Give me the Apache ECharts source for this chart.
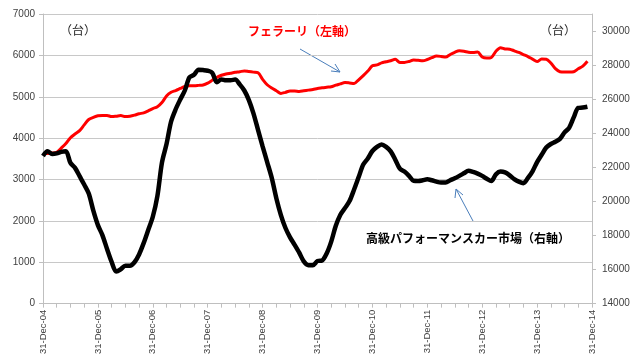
<!DOCTYPE html>
<html><head><meta charset="utf-8">
<script src="https://cdn.jsdelivr.net/npm/echarts@6/dist/echarts.min.js"></script>
<style>html,body{margin:0;padding:0;background:#fff}#c{width:639px;height:357px}</style>
</head><body><div id="c"></div>
<script>
// Year tick labels shown on the x axis
const yearLabels = ['31-Dec-04','31-Dec-05','31-Dec-06','31-Dec-07','31-Dec-08','31-Dec-09','31-Dec-10','31-Dec-11','31-Dec-12','31-Dec-13','31-Dec-14'];
const monthNames = ['Jan','Feb','Mar','Apr','May','Jun','Jul','Aug','Sep','Oct','Nov','Dec'];
const monthDays = ['31','28','31','30','31','30','31','31','30','31','30','31'];
// Monthly categories Dec-04 .. Dec-14
const categories = ['31-Dec-04'];
for (let y = 5; y <= 14; y++) {
  for (let m = 0; m < 12; m++) {
    categories.push(monthDays[m] + '-' + monthNames[m] + '-' + String(y).padStart(2, '0'));
  }
}
// Ferrari (left axis, units)
const ferrari = [3630,3630,3640,3660,3760,3870,4010,4100,4180,4320,4450,4500,
4540,4550,4550,4520,4530,4545,4520,4530,4555,4590,4610,4660,
4715,4760,4860,5020,5110,5150,5200,5250,5268,5268,5275,5285,
5330,5400,5470,5520,5550,5570,5590,5605,5625,5610,5595,5580,
5420,5290,5210,5145,5080,5107,5140,5140,5130,5145,5160,5175,
5200,5215,5230,5240,5280,5310,5345,5335,5320,5410,5510,5620,
5750,5770,5820,5845,5870,5905,5830,5830,5853,5890,5880,5870,
5900,5945,5985,5975,5958,6020,6075,6110,6100,6075,6070,6079,
5960,5935,5950,6100,6185,6155,6150,6110,6070,6020,5970,5910,
5850,5910,5905,5815,5680,5605,5597,5597,5605,5675,5740,5860];
// High-performance car market (right axis, units)
const market = [22670,22940,22790,22820,22910,22940,22260,21970,21480,20990,20460,19460,
18610,18010,17210,16450,15890,16020,16230,16230,16430,16890,17550,18320,
19100,20310,22280,23370,24690,25410,25980,26510,27280,27430,27730,27710,
27670,27550,26990,27160,27110,27110,27150,26870,26510,25950,25170,24200,
23230,22310,21380,20190,19200,18440,17890,17450,16990,16480,16260,16260,
16500,16530,16940,17640,18570,19220,19610,20020,20700,21430,22160,22520,
22960,23200,23340,23200,22940,22450,21920,21750,21500,21210,21200,21240,
21300,21240,21160,21110,21110,21240,21360,21500,21650,21800,21730,21630,
21500,21330,21200,21590,21750,21700,21530,21310,21160,21070,21380,21770,
22310,22740,23160,23370,23500,23670,24050,24320,24930,25490,25510,25560];
const leftTicks = {min: 0, max: 7000, step: 1000};
const rightTicks = {min: 14000, max: 31000, step: 2000};

const chart = echarts.init(document.getElementById('c'), null, {renderer: 'canvas'});
const axisGray = '#bfbfbf';
const labelColor = '#404040';
const jp = '"Noto Sans CJK JP", sans-serif';
const arrowColor = '#4a7ebb';
chart.setOption({
  animation: false,
  backgroundColor: '#fff',
  grid: {left: 43, right: 47, top: 14, bottom: 52, containLabel: false},
  xAxis: {
    type: 'category', data: categories, boundaryGap: false,
    axisLine: {lineStyle: {color: axisGray}},
    axisTick: {interval: 2, length: 4, lineStyle: {color: axisGray}},
    axisLabel: {interval: 0, rotate: 90, fontSize: 9.5, color: labelColor, fontFamily: 'Liberation Sans, Arial', margin: 6,
      formatter: v => yearLabels.indexOf(v) >= 0 ? v : ''},
    splitLine: {show: false}
  },
  yAxis: [{
    type: 'value', min: leftTicks.min, max: leftTicks.max, interval: leftTicks.step,
    axisLine: {show: true, lineStyle: {color: axisGray}},
    axisTick: {show: true, length: 4, lineStyle: {color: axisGray}},
    axisLabel: {fontSize: 10, color: labelColor, fontFamily: 'Liberation Sans, Arial', margin: 8,
      formatter: v => String(v)},
    splitLine: {lineStyle: {color: '#c8c8c8'}}
  }, {
    type: 'value', min: rightTicks.min, max: rightTicks.max, interval: rightTicks.step,
    axisLine: {show: true, lineStyle: {color: axisGray}},
    axisTick: {show: true, length: 4, lineStyle: {color: axisGray}},
    axisLabel: {fontSize: 10, color: labelColor, fontFamily: 'Liberation Sans, Arial', margin: 10, showMaxLabel: false,
      formatter: v => v > 30000 ? '' : String(v)},
    splitLine: {show: false}
  }],
  series: [{
    name: 'フェラーリ（左軸）', type: 'line', data: ferrari, yAxisIndex: 0,
    showSymbol: false, smooth: 0.3, lineStyle: {color: '#ff0000', width: 3}, z: 2
  }, {
    name: '高級パフォーマンスカー市場（右軸）', type: 'line', data: market, yAxisIndex: 1,
    showSymbol: false, smooth: 0.3, lineStyle: {color: '#000000', width: 4.5}, z: 3
  }],
  graphic: [
    {type: 'text', left: 60, top: 24, style: {text: '（台）', font: '12px ' + jp, fill: '#222'}},
    {type: 'text', left: 540, top: 24, style: {text: '（台）', font: '12px ' + jp, fill: '#222'}},
    {type: 'text', left: 248, top: 25, style: {text: 'フェラーリ（左軸）', font: 'bold 12px ' + jp, fill: '#ff0000'}},
    {type: 'text', left: 366, top: 232, style: {text: '高級パフォーマンスカー市場（右軸）', font: 'bold 12px ' + jp, fill: '#000'}},
    {type: 'line', shape: {x1: 300, y1: 49, x2: 340, y2: 72}, style: {stroke: arrowColor, lineWidth: 1}},
    {type: 'polyline', shape: {points: [[331, 71], [340, 72], [335, 64]]}, style: {stroke: arrowColor, lineWidth: 1, fill: null}},
    {type: 'line', shape: {x1: 473, y1: 221, x2: 456, y2: 189}, style: {stroke: arrowColor, lineWidth: 1}},
    {type: 'polyline', shape: {points: [[455, 198], [456, 189], [463, 195]]}, style: {stroke: arrowColor, lineWidth: 1, fill: null}}
  ]
});
</script></body></html>
